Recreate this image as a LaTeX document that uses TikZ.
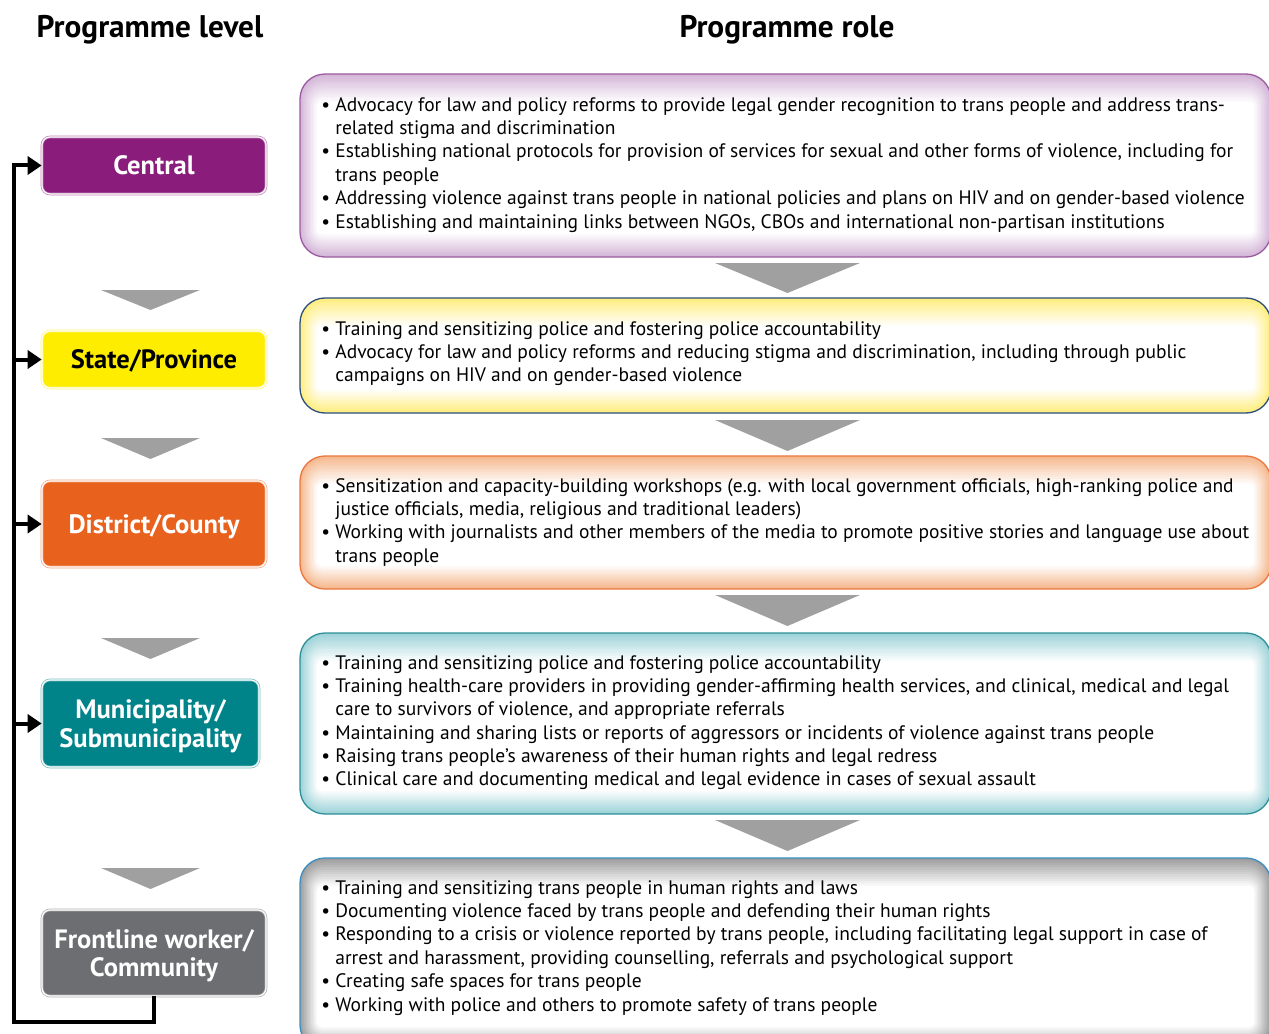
\documentclass[tikz,border=0pt]{standalone}
\usepackage{fontspec}
\setmainfont{PT Sans}
\usetikzlibrary{arrows.meta}
\def\u{0.02cm}
\definecolor{cPurple}{HTML}{8A1C7C}
\definecolor{cYellow}{HTML}{FFED00}
\definecolor{cOrange}{HTML}{E8611D}
\definecolor{cTeal}{HTML}{00848A}
\definecolor{cGray}{HTML}{6D6E71}
\definecolor{tPurple}{HTML}{D4B7D9}
\definecolor{tYellow}{HTML}{FFEE80}
\definecolor{tOrange}{HTML}{F5B98F}
\definecolor{tTeal}{HTML}{9DD3D8}
\definecolor{tGray}{HTML}{9E9E9E}
\definecolor{bPurple}{HTML}{9C5BA0}
\definecolor{bYellow}{HTML}{2B4C7E}
\definecolor{bOrange}{HTML}{E9773E}
\definecolor{bTeal}{HTML}{2E8F98}
\definecolor{bGray}{HTML}{3A8FC4}
\definecolor{triGray}{HTML}{A0A0A0}
\newcommand\bodyfont{\fontsize{11.1pt}{13.3pt}\selectfont}
\newcommand\ind{\hphantom{•\ }}
\newcommand\glowbox[6]{%
  \fill[#5, rounded corners=25*\u] (#1,#2) rectangle (#3,#4);
  \foreach \i in {1,...,12}{%
    \pgfmathtruncatemacro\p{100-\i*100/12}%
    \pgfmathsetlengthmacro\rr{max(25-\i*1.6,4)*0.02cm}%
    \fill[#5!\p!white, rounded corners=\rr] ({#1+\i*1.4},{#2+\i*2.3}) rectangle ({#3-\i*1.4},{#4-\i*1.9});
  }%
  \draw[#6, line width=1.3*\u, rounded corners=25*\u] (#1,#2) rectangle (#3,#4);
}
\tikzset{
  level/.style={rounded corners=8*\u, minimum width=224*\u, minimum height=57*\u,
    draw=#1!55!white, double=white, double distance=1.2*\u, line width=0.7*\u,
    fill=#1, text=white, align=center, inner sep=0pt, text depth=0pt,
    font=\fontsize{15.1pt}{16pt}\selectfont\bfseries},
  role/.style={anchor=north west, inner sep=0pt, align=left, font=\bodyfont, text=black},
  header/.style={font=\fontsize{17.8pt}{20pt}\selectfont\bfseries, inner sep=0pt},
  conn/.style={line width=4*\u, black},
  tip/.style={-{Triangle[length=14*\u, width=18*\u]}},
  bigtri/.style={fill=triGray},
}
\begin{document}
\begin{tikzpicture}[x=0.02cm, y=-0.02cm]
\useasboundingbox (0,0) rectangle (1269,1034);
\clip (0,0) rectangle (1269,1034);

% headers
\node[header] (h1) at (150,30) {Programme level};
\node[header] (h2) at (787,30) {Programme role};

% right boxes
\glowbox{300}{74}{1271}{257}{tPurple}{bPurple}
\glowbox{300}{298}{1271}{413}{tYellow}{bYellow}
\glowbox{300}{456}{1271}{589}{tOrange}{bOrange}
\glowbox{300}{633}{1271}{814}{tTeal}{bTeal}
\glowbox{300}{858}{1271}{1050}{tGray}{bGray}

\node[role] (r1) at (321,97) {• Advocacy for law and policy reforms to provide legal gender recognition to trans people and address trans-\\
\ind related stigma and discrimination\\
• Establishing national protocols for provision of services for sexual and other forms of violence, including for\\
\ind trans people\\
• Addressing violence against trans people in national policies and plans on HIV and on gender-based violence\\
• Establishing and maintaining links between NGOs, CBOs and international non-partisan institutions};

\node[role] (r2) at (321,321) {• Training and sensitizing police and fostering police accountability\\
• Advocacy for law and policy reforms and reducing stigma and discrimination, including through public\\
\ind campaigns on HIV and on gender-based violence};

\node[role] (r3) at (321,478) {• Sensitization and capacity-building workshops (e.g. with local government officials, high-ranking police and\\
\ind justice officials, media, religious and traditional leaders)\\
• Working with journalists and other members of the media to promote positive stories and language use about\\
\ind trans people};

\node[role] (r4) at (321,655) {• Training and sensitizing police and fostering police accountability\\
• Training health-care providers in providing gender-affirming health services, and clinical, medical and legal\\
\ind care to survivors of violence, and appropriate referrals\\
• Maintaining and sharing lists or reports of aggressors or incidents of violence against trans people\\
• Raising trans people’s awareness of their human rights and legal redress\\
• Clinical care and documenting medical and legal evidence in cases of sexual assault};

\node[role] (r5) at (321,880) {• Training and sensitizing trans people in human rights and laws\\
• Documenting violence faced by trans people and defending their human rights\\
• Responding to a crisis or violence reported by trans people, including facilitating legal support in case of\\
\ind arrest and harassment, providing counselling, referrals and psychological support\\
• Creating safe spaces for trans people\\
• Working with police and others to promote safety of trans people};

% big triangles
\fill[bigtri] (715,263) -- (860,263) -- (787.5,293) -- cycle;
\fill[bigtri] (715,420) -- (860,420) -- (787.5,451) -- cycle;
\fill[bigtri] (715,595) -- (860,595) -- (787.5,626) -- cycle;
\fill[bigtri] (715,820) -- (860,820) -- (787.5,851) -- cycle;

% small triangles
\fill[bigtri] (101,290) -- (200,290) -- (150.5,310) -- cycle;
\fill[bigtri] (101,438) -- (200,438) -- (150.5,459) -- cycle;
\fill[bigtri] (101,638) -- (200,638) -- (150.5,659) -- cycle;
\fill[bigtri] (101,868) -- (200,868) -- (150.5,889) -- cycle;

% level boxes
\node[level=cPurple] (central) at (154,165.5) {Central};
\node[level=cYellow, text=black] (state) at (154,359.5) {State/Province};
\node[level=cOrange, minimum height=86*\u] (district) at (154,524) {District/County};
\node[level=cTeal, minimum height=87*\u, minimum width=217*\u, font=\fontsize{15.1pt}{16.4pt}\selectfont\bfseries] (muni) at (150.5,723.5) {Municipality/\\Submunicipality};
\node[level=cGray, minimum height=86*\u, font=\fontsize{15.1pt}{16.4pt}\selectfont\bfseries] (front) at (154,953) {Frontline worker/\\Community};

% connectors
\coordinate (rail) at (14,0);
\coordinate (loopcorner) at (14,1022);
\draw[conn, tip] (front.south) -- (front.south |- loopcorner) -- (loopcorner) -- (central.west -| rail) -- (central.west);
\draw[conn, tip] (state.west -| rail) -- (state.west);
\draw[conn, tip] (district.west -| rail) -- (district.west);
\draw[conn, tip] (muni.west -| rail) -- (muni.west);
\end{tikzpicture}
\end{document}
